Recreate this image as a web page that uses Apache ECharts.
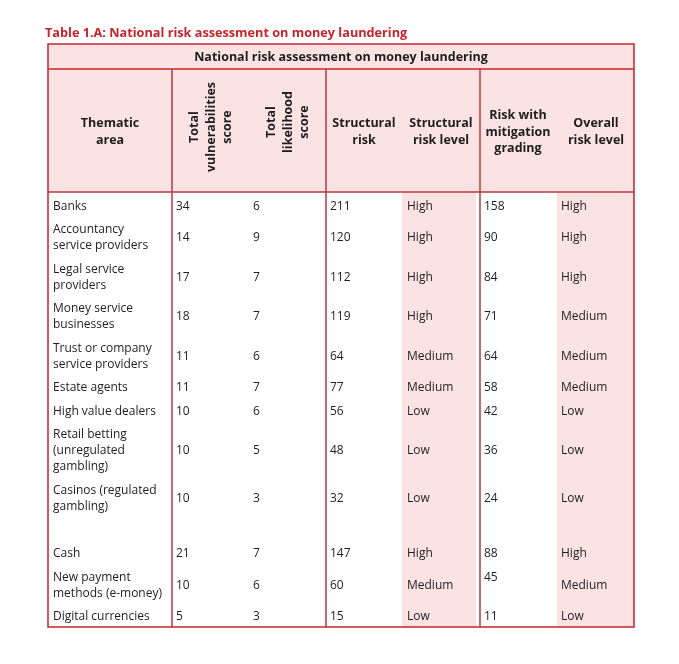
<!DOCTYPE html>
<html>
<head>
<meta charset="utf-8">
<style>html,body{margin:0;padding:0;background:#fff;}#c{width:679px;height:664px;}</style>
<script src="https://cdn.jsdelivr.net/npm/echarts@6/dist/echarts.min.js"></script>
</head>
<body>
<div id="c"></div>
<script>
// ---- data ----
const titleText = 'Table 1.A: National risk assessment on money laundering';
const tableHeading = 'National risk assessment on money laundering';
const columnHeaders = ['Thematic\narea', 'Total\nvulnerabilities\nscore', 'Total\nlikelihood\nscore', 'Structural\nrisk', 'Structural\nrisk level', 'Risk with\nmitigation\ngrading', 'Overall\nrisk level'];
const areas = ['Banks', 'Accountancy\nservice providers', 'Legal service\nproviders', 'Money service\nbusinesses', 'Trust or company\nservice providers', 'Estate agents', 'High value dealers', 'Retail betting\n(unregulated\ngambling)', 'Casinos (regulated\ngambling)', 'Cash', 'New payment\nmethods (e-money)', 'Digital currencies'];
const vulnerabilities = [34, 14, 17, 18, 11, 11, 10, 10, 10, 21, 10, 5];
const likelihood = [6, 9, 7, 7, 6, 7, 6, 5, 3, 7, 6, 3];
const structuralRisk = [211, 120, 112, 119, 64, 77, 56, 48, 32, 147, 60, 15];
const structuralLevel = ['High', 'High', 'High', 'High', 'Medium', 'Medium', 'Low', 'Low', 'Low', 'High', 'Medium', 'Low'];
const mitigation = [158, 90, 84, 71, 64, 58, 42, 36, 24, 88, 45, 11];
const overallLevel = ['High', 'High', 'High', 'Medium', 'Medium', 'Medium', 'Low', 'Low', 'Low', 'High', 'Medium', 'Low'];

// ---- layout ----
const FONT = '"Open Sans", sans-serif';
const W = 679, H = 664;
const L = 48, R = 634, T = 44, B = 627, H1 = 69, H2 = 192;
const vlines = [172, 326, 480];
const colX = [53, 176, 253, 330, 407, 484, 561];
const rowY = [207, 238, 278, 317, 357, 388, 412, 451, 499, 554, 586, 617];
const rowShift = [[], [], [], [], [], [], [], [], [], [], [0, 0, 0, 0, 0, -8, 0], []];
const RED = '#c8242b', LINE = '#b8383c', PINK = '#fbe3e4', TXT = '#1e1e1e';

const columns = [areas, vulnerabilities, likelihood, structuralRisk, structuralLevel, mitigation, overallLevel];
const cells = [];
columns.forEach((col, ci) => col.forEach((v, ri) => {
  const sh = (rowShift[ri][ci] || 0);
  cells.push({ value: [colX[ci], rowY[ri] + sh], text: String(v) });
}));

const chart = echarts.init(document.getElementById('c'), null, { renderer: 'canvas' });

const graphics = [];
// header background
graphics.push({ type: 'rect', shape: { x: L, y: T, width: R - L, height: H2 - T }, style: { fill: PINK }, z: 0 });
// pink body columns
graphics.push({ type: 'rect', shape: { x: 402, y: H2, width: 74, height: B - H2 }, style: { fill: PINK }, z: 0 });
graphics.push({ type: 'rect', shape: { x: 557, y: H2, width: R - 557, height: B - H2 }, style: { fill: PINK }, z: 0 });
// lines
graphics.push({ type: 'line', shape: { x1: L, y1: H1, x2: R, y2: H1 }, style: { stroke: RED, lineWidth: 1.5 }, z: 1 });
graphics.push({ type: 'line', shape: { x1: L, y1: H2, x2: R, y2: H2 }, style: { stroke: LINE, lineWidth: 1.5 }, z: 1 });
vlines.forEach(x => graphics.push({ type: 'line', shape: { x1: x, y1: H1, x2: x, y2: B }, style: { stroke: LINE, lineWidth: 1.5 }, z: 1 }));
graphics.push({ type: 'rect', shape: { x: L, y: T, width: R - L, height: B - T }, style: { fill: 'none', stroke: RED, lineWidth: 1.5 }, z: 2 });
// title
graphics.push({ type: 'text', x: 45, y: 33, style: { text: titleText, font: 'bold 12.7px ' + FONT, fill: RED, textVerticalAlign: 'middle' }, z: 3 });
graphics.push({ type: 'text', x: (L + R) / 2, y: 57, style: { text: tableHeading, font: 'bold 12.5px ' + FONT, fill: TXT, textAlign: 'center', textVerticalAlign: 'middle' }, z: 3 });
// headers
const hdrX = [110, 211, 288, 364, 441, 518, 596];
const hdrY = [132, 127, 122, 132, 132, 132, 132];
columnHeaders.forEach((h, i) => {
  const rot = (i === 1 || i === 2);
  graphics.push({
    type: 'text', x: hdrX[i], y: hdrY[i], rotation: rot ? Math.PI / 2 : 0,
    style: { text: h, font: 'bold 12.5px ' + FONT, fill: TXT, textAlign: 'center', textVerticalAlign: 'middle', lineHeight: 16.5 }, z: 3
  });
});

chart.setOption({
  animation: false,
  grid: { left: 0, right: 0, top: 0, bottom: 0 },
  xAxis: { type: 'value', min: 0, max: W, show: false },
  yAxis: { type: 'value', min: 0, max: H, inverse: true, show: false },
  graphic: graphics,
  series: [{
    type: 'custom',
    z: 10,
    data: cells.map(c => c.value),
    renderItem: function (params, api) {
      const p = api.coord([api.value(0), api.value(1)]);
      return {
        type: 'text', x: p[0], y: p[1],
        style: { text: cells[params.dataIndex].text, font: '12px ' + FONT, fill: TXT, textAlign: 'left', textVerticalAlign: 'middle', lineHeight: 16 }
      };
    }
  }]
});
</script>
</body>
</html>
